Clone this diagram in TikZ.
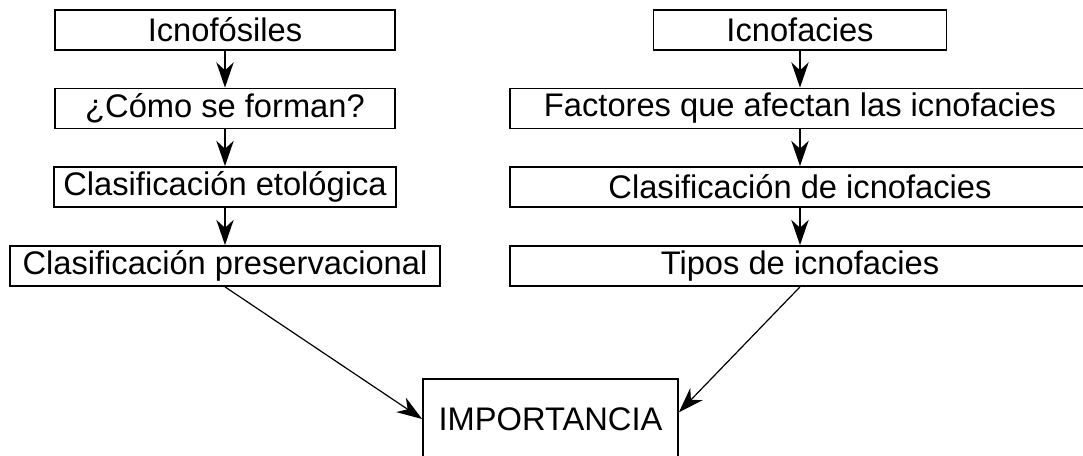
\documentclass[tikz,border=0pt]{standalone}
\usepackage{fontspec}
\setmainfont{Liberation Sans}
\usetikzlibrary{arrows.meta}
\tikzset{every picture/.style={line width=1.2pt}}

\begin{document}
\begin{tikzpicture}[x=0.75pt,y=0.75pt,yscale=-1,xscale=1,
  box/.style={draw, rectangle, line width=1.3pt, inner sep=0pt, minimum height=30pt, font=\fontsize{24.5}{29}\selectfont},
  arr/.style={-{Stealth[length=19pt,width=13pt,inset=6pt]}}]
\useasboundingbox (0,0) rectangle (1083,455);

% Left column
\node [box, minimum width=255pt] (ic) at (225,30) {Icnofósiles};
\node [box, minimum width=255pt] (cf) at (225,108.5) {¿Cómo se forman?};
\node [box, minimum width=257pt] (ce) at (225,187) {Clasificación etológica};
\node [box, minimum width=322.5pt] (cp) at (225,266) {Clasificación preservacional};

% Right column (runs past the right edge)
\node [box, minimum width=219.75pt] (inf) at (800,30) {Icnofacies};
\node [box, minimum width=435pt] (fa) at (800,108.5) {Factores que afectan las icnofacies};
\node [box, minimum width=435pt] (ci) at (800,187) {Clasificación de icnofacies};
\node [box, minimum width=435pt] (tp) at (800,266) {Tipos de icnofacies};

% Bottom box
\node [box, minimum width=191.25pt, minimum height=60pt] (imp) at (550.5,419) {IMPORTANCIA};

% Arrows
\draw [arr] (ic) -- (cf);
\draw [arr] (cf) -- (ce);
\draw [arr] (ce) -- (cp);
\draw [arr] (inf) -- (fa);
\draw [arr] (fa) -- (ci);
\draw [arr] (ci) -- (tp);
\draw [arr, line width=0.9pt] (cp.south) -- (imp.west);
\draw [arr, line width=0.9pt] (tp.south) -- ([yshift=-5pt]imp.east);

\end{tikzpicture}
\end{document}
